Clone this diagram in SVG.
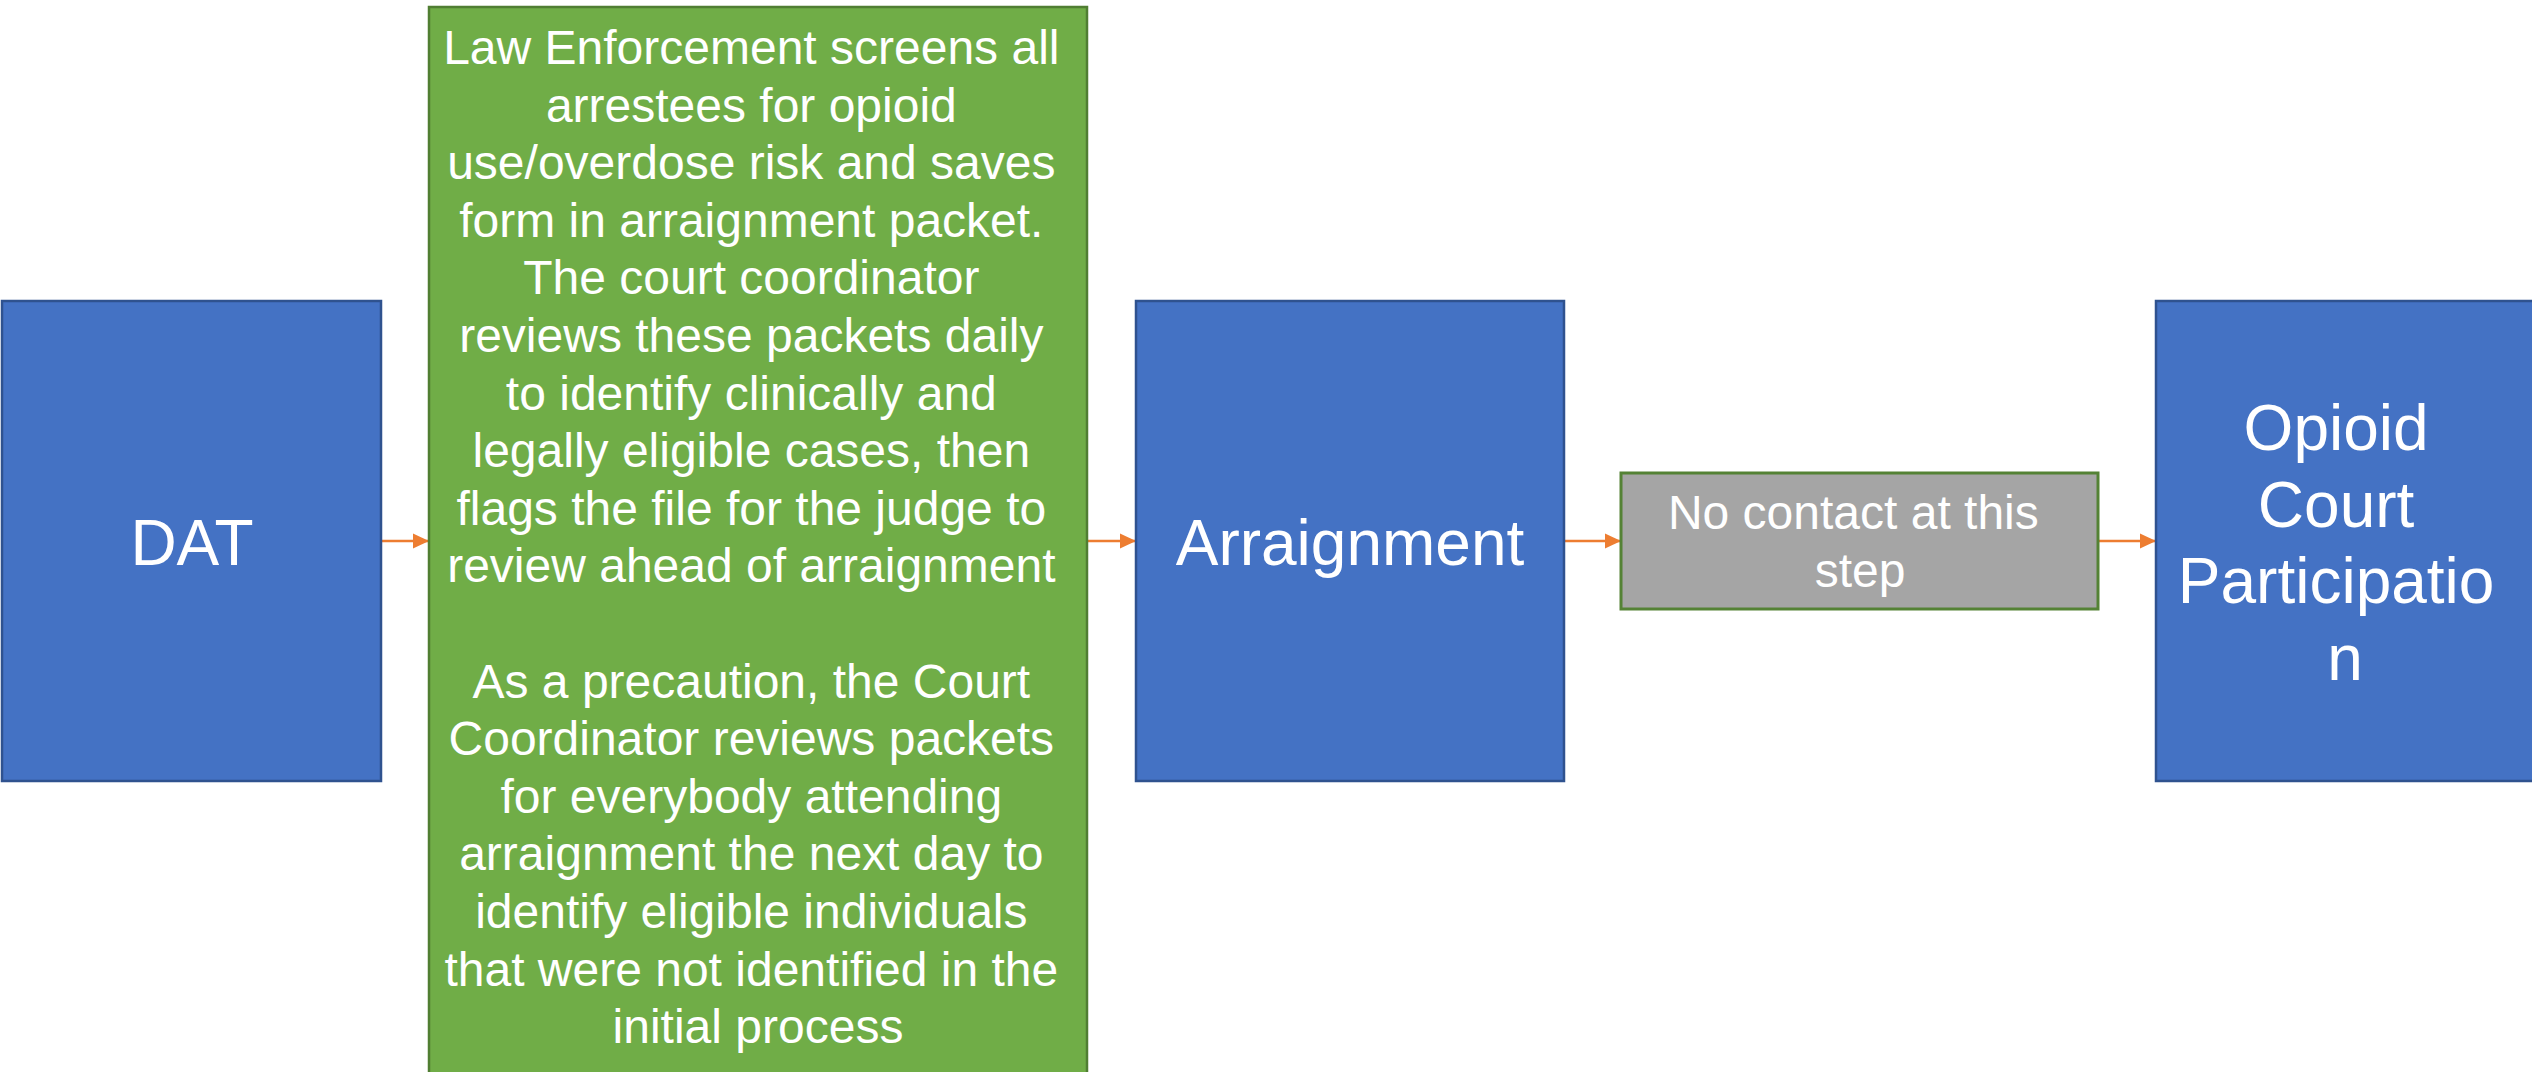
<svg xmlns="http://www.w3.org/2000/svg" width="2532" height="1072" viewBox="0 0 2532 1072">
<style>
.blue{fill:#4472C4;stroke:#2F528F;stroke-width:2.5}
.green{fill:#70AD47;stroke:#507E32;stroke-width:2.5}
.gray{fill:#A5A5A5;stroke:#548235;stroke-width:3}
.t{font-family:"Liberation Sans",Arial,sans-serif;fill:#FFFFFF;text-anchor:middle}
.big{font-size:64px}
.small{font-size:48px}
.conn{stroke:#ED7D31;stroke-width:2.5;fill:none}
</style>
<defs>
<marker id="arr" markerUnits="userSpaceOnUse" markerWidth="16" markerHeight="16" viewBox="0 0 16 16" refX="16" refY="8" orient="auto">
<path d="M0,0.5 L16,8 L0,15.5 Z" fill="#ED7D31"/>
</marker>
</defs>
<rect width="2532" height="1072" fill="#FFFFFF"/>
<g id="connectors">
<line class="conn" x1="381" y1="541" x2="429" y2="541" marker-end="url(#arr)"/>
<line class="conn" x1="1087" y1="541" x2="1136" y2="541" marker-end="url(#arr)"/>
<line class="conn" x1="1564" y1="541" x2="1621" y2="541" marker-end="url(#arr)"/>
<line class="conn" x1="2098" y1="541" x2="2156" y2="541" marker-end="url(#arr)"/>
</g>
<g id="node-dat">
<rect class="blue" x="2" y="301" width="379" height="480"/>
<text class="t big" x="192" y="565">DAT</text>
</g>
<g id="node-screening">
<rect class="green" x="429" y="7" width="658" height="1080"/>
<text class="t small">
<tspan x="758" y="64">Law Enforcement screens all</tspan>
<tspan x="758" y="121.6">arrestees for opioid</tspan>
<tspan x="758" y="179.2">use/overdose risk and saves</tspan>
<tspan x="758" y="236.8">form in arraignment packet.</tspan>
<tspan x="758" y="294.4">The court coordinator</tspan>
<tspan x="758" y="352">reviews these packets daily</tspan>
<tspan x="758" y="409.6">to identify clinically and</tspan>
<tspan x="758" y="467.2">legally eligible cases, then</tspan>
<tspan x="758" y="524.8">flags the file for the judge to</tspan>
<tspan x="758" y="582.4">review ahead of arraignment</tspan>
<tspan x="758" y="697.6">As a precaution, the Court</tspan>
<tspan x="758" y="755.2">Coordinator reviews packets</tspan>
<tspan x="758" y="812.8">for everybody attending</tspan>
<tspan x="758" y="870.4">arraignment the next day to</tspan>
<tspan x="758" y="928">identify eligible individuals</tspan>
<tspan x="758" y="985.6">that were not identified in the</tspan>
<tspan x="758" y="1043.2">initial process</tspan>
</text>
</g>
<g id="node-arraignment">
<rect class="blue" x="1136" y="301" width="428" height="480"/>
<text class="t big" x="1350" y="565">Arraignment</text>
</g>
<g id="node-nocontact">
<rect class="gray" x="1621" y="473" width="477" height="136"/>
<text class="t small">
<tspan x="1860" y="529">No contact at this</tspan>
<tspan x="1860" y="587">step</tspan>
</text>
</g>
<g id="node-opioid">
<rect class="blue" x="2156" y="301" width="390" height="480"/>
<text class="t big">
<tspan x="2345" y="450">Opioid</tspan>
<tspan x="2345" y="527">Court</tspan>
<tspan x="2345" y="603">Participatio</tspan>
<tspan x="2345" y="680">n</tspan>
</text>
</g>
</svg>
